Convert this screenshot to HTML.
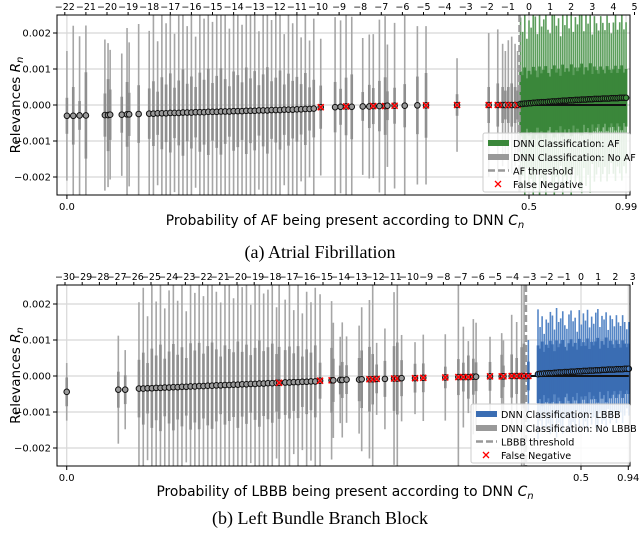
<!DOCTYPE html>
<html><head><meta charset="utf-8">
<style>
html,body{margin:0;padding:0;background:#fff;}
svg{display:block;font-family:"DejaVu Sans","Liberation Sans",sans-serif;}
</style></head>
<body>
<svg id="chart" width="640" height="533" viewBox="0 0 640 533" xmlns="http://www.w3.org/2000/svg">
<defs>
<clipPath id="clipA"><rect x="57" y="15" width="573" height="180"/></clipPath>
<clipPath id="clipB"><rect x="57" y="285" width="573" height="181"/></clipPath>
</defs>
<g id="panelA"></g>
<g id="panelB"></g>
<text x="320" y="258" text-anchor="middle" font-family="'Liberation Serif',serif" font-size="18">(a) Atrial Fibrillation</text>
<text x="320" y="524" text-anchor="middle" font-family="'Liberation Serif',serif" font-size="18">(b) Left Bundle Branch Block</text>
</svg>
<script>
// ---- Panel A data (logit x, values in units of 1e-4) ----
const afX = [-21.9,-21.6,-21.3,-21.0,-20.1,-19.95,-19.85,-19.3,-19.05,-18.95,-18.5,
-18.0,-17.8,-17.6,-17.4,-17.2,-17.0,-16.8,-16.6,-16.4,-16.2,-16.0,-15.8,-15.6,-15.4,-15.2,-15.0,-14.8,-14.6,-14.4,-14.2,-14.0,-13.8,-13.6,-13.4,-13.2,-13.0,-12.8,-12.6,-12.4,-12.2,-12.0,-11.8,-11.6,-11.4,-11.2,-11.0,-10.8,-10.6,-10.4,-10.2,
-9.87,-9.19,-8.93,-8.67,-8.40,-7.88,-7.57,-7.38,-7.09,-6.82,-6.71,-6.37,-5.89,-5.29,-4.88,-3.41,-1.91,-1.48,-1.25,-1.12,-0.98,-0.82,-0.66,-0.54,
-0.4,-0.3,-0.2,-0.1,0.0,0.1,0.2,0.3,0.4,0.5,0.6,0.7,0.8,0.9,1.0,1.1,1.2,1.3,1.4,1.5,1.6,1.7,1.8,1.9,2.0,2.1,2.2,2.3,2.4,2.5,2.6,2.7,2.8,2.9,3.0,3.1,3.2,3.3,3.4,3.5,3.6,3.7,3.8,3.9,4.0,4.1,4.2,4.3,4.4,4.5,4.6];
const afMean = [-3.0,-3.0,-2.9,-2.9,-2.8,-2.8,-2.7,-2.7,-2.6,-2.6,-2.5,
-2.4,-2.4,-2.3,-2.3,-2.3,-2.2,-2.2,-2.2,-2.1,-2.1,-2.1,-2.0,-2.0,-2.0,-1.9,-1.9,-1.9,-1.8,-1.8,-1.8,-1.7,-1.7,-1.7,-1.6,-1.6,-1.6,-1.5,-1.5,-1.5,-1.4,-1.4,-1.4,-1.3,-1.3,-1.3,-1.2,-1.2,-1.1,-1.1,-1.0,
-0.6,-0.6,-0.5,-0.4,-0.5,-0.4,-0.4,-0.3,-0.3,-0.3,-0.2,-0.2,-0.2,-0.1,-0.1,0,0,0,0,0,0,0,0,0,
0.3,0.3,0.4,0.4,0.5,0.5,0.6,0.6,0.7,0.7,0.8,0.8,0.8,0.9,0.9,1.0,1.0,1.0,1.1,1.1,1.2,1.2,1.2,1.3,1.3,1.3,1.4,1.4,1.4,1.5,1.5,1.5,1.6,1.6,1.6,1.7,1.7,1.7,1.7,1.8,1.8,1.8,1.8,1.9,1.9,1.9,1.9,2.0,2.0,2.0,2.0];
const afStd = [5,8,4,12,6,10,7,5,9,6,8,
7,9,6,10,8,11,7,9,12,8,10,7,11,9,12,8,10,12,9,7,11,10,8,12,9,11,7,10,12,8,9,11,7,10,8,9,7,10,6,8,
6,7,5,8,9,4,6,5,7,8,4,5,6,8,9,3,5,6,5,4,5,6,5,4,
9,8,10,7,9,8,10,9,7,10,8,9,10,8,7,9,10,8,9,7,10,8,9,8,10,7,9,8,9,10,7,9,8,10,7,9,8,7,9,8,7,9,8,7,8,9,7,8,9,7,8];
const afWhisk = [18,25,22,25,21,20,18,17,24,20,25,
23,29,20,31,25,32,22,27,33,24,30,21,33,26,34,25,32,34,27,23,33,29,24,34,28,33,22,31,34,25,27,32,21,30,24,28,20,29,19,25,
19,25,24,26,25,19,20,20,24,25,17,23,25,22,22,13,20,21,17,15,18,19,17,15,
24,20,26,18,23,21,27,24,19,28,21,23,26,20,19,24,27,21,23,18,26,21,24,20,32,19,23,21,25,26,19,24,21,26,18,23,21,19,23,21,19,23,21,18,21,23,19,21,23,19,21];
const afFN = [-9.87,-8.67,-7.38,-6.82,-6.37,-4.88,-3.41,-1.91,-1.48,-1.25,-0.98,-0.82,-0.54];
const afTopTicks = [-22,-21,-20,-19,-18,-17,-16,-15,-14,-13,-12,-11,-10,-9,-8,-7,-6,-5,-4,-3,-2,-1,0,1,2,3,4,5];
const afBottomTicks = [-21.9,0,4.6];
const afBottomLabels = ["0.0","0.5","0.99"];
const afThreshold = -0.45;
const yTicks = [0.002,0.001,0.000,-0.001,-0.002];
const yTickLabels = ["0.002","0.001","0.000","\u22120.001","\u22120.002"];

// ---- Panel B data ----
const lbX = [-29.9,-26.9,-26.5,
-25.7,-25.45,-25.2,-24.95,-24.7,-24.45,-24.2,-23.95,-23.7,-23.45,-23.2,-22.95,-22.7,-22.45,-22.2,-21.95,-21.7,-21.45,-21.2,-20.95,-20.7,-20.45,-20.2,-19.95,-19.7,-19.45,-19.2,-18.95,-18.7,-18.45,-18.2,-17.95,-17.7,-17.55,-17.2,-16.95,-16.7,-16.45,-16.2,-15.95,-15.7,-15.45,
-15.17,-14.5,-14.4,-14.0,-13.88,-13.63,-12.9,-12.75,-12.3,-12.11,-11.88,-11.4,-10.87,-10.68,-10.43,-9.65,-9.17,-7.89,-7.13,-6.84,-6.55,-6.26,-6.1,-5.29,-4.61,-4.51,-4.03,-3.74,-3.45,-3.31,-3.06,
-2.5,-2.38,-2.26,-2.14,-2.02,-1.9,-1.78,-1.66,-1.54,-1.42,-1.3,-1.18,-1.06,-0.94,-0.82,-0.7,-0.58,-0.46,-0.34,-0.22,-0.1,0.02,0.14,0.26,0.38,0.5,0.62,0.74,0.86,0.98,1.1,1.22,1.34,1.46,1.58,1.7,1.82,1.94,2.06,2.18,2.3,2.42,2.54,2.66,2.78];
const lbMean = [-4.4,-3.8,-3.8,
-3.5,-3.5,-3.4,-3.4,-3.3,-3.3,-3.2,-3.2,-3.1,-3.1,-3.0,-3.0,-2.9,-2.9,-2.8,-2.8,-2.7,-2.7,-2.6,-2.6,-2.5,-2.5,-2.4,-2.4,-2.3,-2.3,-2.2,-2.2,-2.1,-2.1,-2.0,-2.0,-1.9,-1.9,-1.8,-1.8,-1.7,-1.7,-1.6,-1.6,-1.5,-1.5,
-1.3,-1.2,-1.2,-1.1,-1.1,-1.0,-1.0,-0.9,-0.9,-0.9,-0.8,-0.8,-0.7,-0.7,-0.6,-0.6,-0.5,-0.4,-0.3,-0.3,-0.3,-0.2,-0.2,-0.1,-0.1,-0.1,0,0,0,0,0,
0.5,0.6,0.6,0.7,0.7,0.8,0.8,0.8,0.9,0.9,1.0,1.0,1.0,1.1,1.1,1.1,1.2,1.2,1.2,1.3,1.3,1.3,1.4,1.4,1.4,1.5,1.5,1.5,1.6,1.6,1.6,1.7,1.7,1.7,1.8,1.8,1.8,1.8,1.9,1.9,1.9,1.9,2.0,2.0,2.0];
const lbStd = [4,5,4,
8,10,7,11,9,12,8,10,12,9,11,8,12,10,12,9,11,12,10,8,11,10,9,12,9,11,8,10,12,9,10,11,8,10,9,10,8,10,7,9,8,10,
5,9,6,4,5,4,6,8,9,7,4,5,9,10,5,4,4,3,5,4,6,5,4,4,6,3,6,5,8,9,4,
8,7,9,6,8,7,9,8,6,9,7,8,9,7,6,8,9,7,8,6,9,7,8,7,9,6,8,7,8,9,6,8,7,9,6,8,7,6,8,7,6,8,7,6,7];
const lbWhisk = [8,15,11,
24,28,20,30,24,32,22,27,34,24,29,21,32,26,34,25,31,34,26,23,33,28,24,34,27,32,22,30,34,25,26,31,21,34,23,27,20,28,19,25,22,26,
24,22,16,12,16,12,15,20,22,27,10,14,24,26,12,10,12,12,34,14,10,16,15,11,12,10,17,15,27,26,10,
18,13,16,11,15,14,17,16,12,18,14,15,17,13,12,16,17,14,15,11,17,13,16,14,17,12,15,13,16,17,12,15,14,16,11,15,14,12,15,13,12,15,13,11,13];
const lbFN = [-17.55,-15.17,-14.5,-12.3,-12.11,-11.88,-10.87,-10.68,-9.65,-9.17,-7.89,-7.13,-6.84,-6.55,-6.26,-5.29,-4.61,-4.51,-4.03,-3.74,-3.45,-3.31,-3.06];
const lbTopTicks = [-30,-29,-28,-27,-26,-25,-24,-23,-22,-21,-20,-19,-18,-17,-16,-15,-14,-13,-12,-11,-10,-9,-8,-7,-6,-5,-4,-3,-2,-1,0,1,2,3];
const lbBottomTicks = [-29.9,0,2.75];
const lbBottomLabels = ["0.0","0.5","0.94"];
const lbThreshold = -3.2;

const NS = "http://www.w3.org/2000/svg";
function mk(tag, attrs, parent){
  const e = document.createElementNS(NS, tag);
  for (const k in attrs) e.setAttribute(k, attrs[k]);
  parent.appendChild(e);
  return e;
}

function drawPanel(g, cfg, X, M, S, W, FN, topTicks, botTicks, botLabels, thr){
  const xs = l => cfg.x0 + cfg.kx * l;
  const ys = v => cfg.yz - v * 3.6;   // v in 1e-4
  const grid = mk('g', {}, g);
  
  
  yTicks.forEach((t, i) => {
    const y = ys(t * 1e4);
    const ln = mk('line', {x1: cfg.L, x2: cfg.R, y1: y, y2: y, stroke: '#d8d8d8', 'stroke-width': 1.2}, grid);
    
    
    const tl = mk('line', {x1: cfg.L - 4, x2: cfg.L, y1: y, y2: y, stroke: '#000', 'stroke-width': 1}, g);
    
    
    const tx = mk('text', {x: cfg.L - 6, y: y + 3.5, 'text-anchor': 'end', 'font-size': 10}, g);
    tx.textContent = yTickLabels[i];
    
    
  });
  botTicks.forEach((t, i) => {
    const x = xs(t);
    const ln = mk('line', {x1: x, x2: x, y1: cfg.T, y2: cfg.B, stroke: '#d8d8d8', 'stroke-width': 1.2}, grid);
    
    
    const tl = mk('line', {x1: x, x2: x, y1: cfg.B, y2: cfg.B + 4, stroke: '#000', 'stroke-width': 1}, g);
    
    
    const tx = mk('text', {x: x, y: cfg.B + 15, 'text-anchor': 'middle', 'font-size': 10}, g);
    tx.textContent = botLabels[i];
    
    
  });
  const bars = mk('g', {'clip-path': cfg.clip}, g);
  
  
  X.forEach((l, i) => {
    const pos = l > thr;
    const x = xs(l);
    const thin = mk('line', {x1: x, x2: x, y1: ys(M[i] + W[i]), y2: ys(M[i] - W[i]), stroke: pos ? cfg.thinPos : '#a6a6a6', 'stroke-width': 1.6}, bars);
    
    
    const thick = mk('line', {x1: x, x2: x, y1: ys(M[i] + S[i]), y2: ys(M[i] - S[i]), stroke: pos ? cfg.thickPos : '#8f8f8f', 'stroke-width': 2.6}, bars);
    
    
  });
  const zl = mk('line', {x1: xs(thr + 0.1), x2: xs(X[X.length - 1]), y1: ys(0), y2: ys(0), stroke: '#111', 'stroke-width': 2}, g);
  
  
  const th = mk('line', {x1: xs(thr), x2: xs(thr), y1: cfg.T, y2: cfg.B, stroke: '#999', 'stroke-width': 2.5, 'stroke-dasharray': '7,3'}, g);
  
  
  X.forEach((l, i) => {
    const pos = l > thr;
    const c = mk('circle', {cx: xs(l), cy: ys(M[i]), r: 2.8, fill: pos ? cfg.markPos : '#9a9a9a', stroke: '#111', 'stroke-width': 1}, g);
    
    
    if (FN.indexOf(l) >= 0) {
      const x = xs(l), y = ys(M[i]);
      const p = mk('path', {d: `M${x-3},${y-3}L${x+3},${y+3}M${x-3},${y+3}L${x+3},${y-3}`, stroke: '#ff0000', 'stroke-width': 1.5}, g);
      
      
    }
  });
  const fr = mk('rect', {x: cfg.L, y: cfg.T, width: cfg.R - cfg.L, height: cfg.B - cfg.T, fill: 'none', stroke: '#000', 'stroke-width': 1}, g);
  
  
  topTicks.forEach(t => {
    const x = xs(t);
    const tl = mk('line', {x1: x, x2: x, y1: cfg.T - 3, y2: cfg.T, stroke: '#000', 'stroke-width': 1}, g);
    
    
    const tx = mk('text', {x: x, y: cfg.T - 5, 'text-anchor': 'middle', 'font-size': 9.5}, g);
    tx.textContent = t < 0 ? '\u2212' + (-t) : String(t);
    
    
  });
  const xl = mk('text', {x: 345, y: cfg.B + 30, 'text-anchor': 'middle', 'font-size': 13.8}, g);
  xl.innerHTML = cfg.xlabel + ' <tspan font-style="italic">C</tspan><tspan font-style="italic" font-size="10" dy="3">n</tspan>';
  
  
  const cy = (cfg.T + cfg.B) / 2;
  const yl = mk('text', {x: 0, y: 0, 'text-anchor': 'middle', 'font-size': 13.5, transform: `translate(20,${cy}) rotate(-90)`}, g);
  yl.innerHTML = 'Relevances <tspan font-style="italic">R</tspan><tspan font-style="italic" font-size="10" dy="3">n</tspan>';
  
  
  const lg = mk('g', {}, g);
  
  
  const L = cfg.leg;
  mk('rect', {x: L.x, y: L.y, width: L.w, height: 59, rx: 2, fill: '#fff', 'fill-opacity': 0.85, stroke: '#ccc'}, lg);
  const rows = [L.y + 10, L.y + 24, L.y + 37.5, L.y + 51];
  const e1 = mk('rect', {x: L.x + 5, y: rows[0] - 3, width: 21, height: 6, fill: cfg.thickPos}, lg);
  
  
  const e2 = mk('rect', {x: L.x + 5, y: rows[1] - 3, width: 21, height: 6, fill: '#999'}, lg);
  
  
  const e3 = mk('line', {x1: L.x + 5, x2: L.x + 26, y1: rows[2], y2: rows[2], stroke: '#999', 'stroke-width': 2.5, 'stroke-dasharray': '7,3'}, lg);
  
  
  const mx = L.x + 15, my = rows[3];
  const e4 = mk('path', {d: `M${mx-3},${my-3}L${mx+3},${my+3}M${mx-3},${my+3}L${mx+3},${my-3}`, stroke: '#f00', 'stroke-width': 1.3}, lg);
  
  
  cfg.legText.forEach((s, i) => {
    const t = mk('text', {x: L.x + 30, y: rows[i] + 4, 'font-size': 9.6}, lg);
    t.textContent = s;
    
    
  });
}

drawPanel(document.getElementById('panelA'), {
  L: 57, R: 630, T: 15, B: 195, x0: 529, kx: 21.1, yz: 105, clip: 'url(#clipA)',
  thinPos: '#5c9e5c', thickPos: '#3a873a', markPos: '#3c8c3c',
  xlabel: 'Probability of AF being present according to DNN',
  leg: {x: 483, y: 133, w: 147},
  legText: ['DNN Classification: AF', 'DNN Classification: No AF', 'AF threshold', 'False Negative']
}, afX, afMean, afStd, afWhisk, afFN, afTopTicks, afBottomTicks, afBottomLabels, afThreshold);

drawPanel(document.getElementById('panelB'), {
  L: 57, R: 630, T: 285, B: 466, x0: 581, kx: 17.2, yz: 376, clip: 'url(#clipB)',
  thinPos: '#5586c6', thickPos: '#3a6db3', markPos: '#4a7fc4',
  xlabel: 'Probability of LBBB being present according to DNN',
  leg: {x: 471, y: 404, w: 159},
  legText: ['DNN Classification: LBBB', 'DNN Classification: No LBBB', 'LBBB threshold', 'False Negative']
}, lbX, lbMean, lbStd, lbWhisk, lbFN, lbTopTicks, lbBottomTicks, lbBottomLabels, lbThreshold);
</script>
</body></html>
